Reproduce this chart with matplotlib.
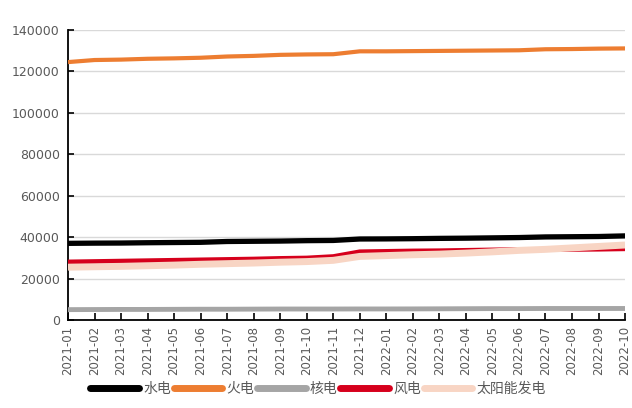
import numpy as np
import matplotlib
matplotlib.use("Agg")
from matplotlib import pyplot as plt

plt.rcParams['font.family'] = ['Noto Sans CJK SC', 'DejaVu Sans']

# monthly installed capacity by source
months = ['2021-01', '2021-02', '2021-03', '2021-04', '2021-05', '2021-06',
          '2021-07', '2021-08', '2021-09', '2021-10', '2021-11', '2021-12',
          '2022-01', '2022-02', '2022-03', '2022-04', '2022-05', '2022-06',
          '2022-07', '2022-08', '2022-09', '2022-10']

hydro = [37000, 37100, 37150, 37300, 37400, 37500, 37900, 38000, 38100, 38300,
         38400, 39100, 39150, 39250, 39400, 39500, 39650, 39800, 40100, 40200,
         40300, 40600]
thermal = [124500, 125500, 125700, 126100, 126300, 126600, 127200, 127500, 128000, 128200,
           128300, 129700, 129700, 129800, 129900, 130000, 130100, 130200, 130700, 130800,
           131000, 131100]
nuclear = [5000, 5050, 5100, 5100, 5150, 5200, 5200, 5250, 5300, 5300,
           5300, 5330, 5330, 5350, 5400, 5450, 5500, 5500, 5550, 5550,
           5550, 5560]
wind = [28000, 28200, 28400, 28600, 28800, 29000, 29200, 29400, 29700, 29900,
        30600, 32900, 33100, 33300, 33400, 33600, 33800, 34000, 34000, 34100,
        34200, 34400]
solar = [25500, 25700, 25900, 26200, 26500, 26900, 27200, 27500, 27900, 28200,
         28800, 30700, 31100, 31500, 31800, 32300, 32900, 33600, 34100, 34800,
         35500, 36200]

names = ['水电', '火电', '核电', '风电', '太阳能发电']
colors = ['#000000', '#ed7d31', '#a5a5a5', '#d6001c', '#f8d5c4']
widths = [3.8, 3.0, 3.5, 3.5, 5.0]

fig = plt.figure(figsize=(6.32, 4.08), dpi=100)
ax = fig.add_axes([0.1076, 0.2157, 0.8814, 0.7108])

x = np.arange(len(months))
series = [hydro, thermal, nuclear, wind, solar]
order = [4, 2, 3, 0, 1]
lines = {}
for i in order:
    ln, = ax.plot(x, series[i], color=colors[i], lw=widths[i], label=names[i],
                  solid_capstyle='butt', zorder=3 + i * 0.1)
    lines[i] = ln

ax.set_xlim(0, len(months) - 1)
ax.set_ylim(0, 140000)
ax.set_yticks(np.arange(0, 140001, 20000))
ax.set_xticks(x)
ax.set_xticklabels(months, rotation=90, fontsize=8.5, color='#595959',
                   family='DejaVu Sans')
for t in ax.get_yticklabels():
    t.set_fontsize(9)
    t.set_color('#595959')
    t.set_family('DejaVu Sans')

ax.grid(axis='y', color='#d9d9d9', lw=1)
ax.set_axisbelow(True)
for s in ['top', 'right']:
    ax.spines[s].set_visible(False)
ax.spines['left'].set_linewidth(1.3)
ax.spines['bottom'].set_linewidth(1.3)
ax.tick_params(axis='x', direction='in', length=5, width=1.2, pad=4)
ax.tick_params(axis='y', direction='in', length=4, width=1.2, pad=6)

leg = ax.legend([lines[i] for i in range(5)], names, loc='center',
                bbox_to_anchor=(318 / 632, 19 / 408), bbox_transform=fig.transFigure,
                ncol=5, frameon=False, fontsize=10, handlelength=3.5,
                handletextpad=0.3, columnspacing=0.2, borderaxespad=0)
for t in leg.get_texts():
    t.set_color('#595959')
for h in leg.legend_handles:
    h.set_linewidth(5)
    h.set_solid_capstyle('round')

fig.savefig('out.png', dpi=100)
